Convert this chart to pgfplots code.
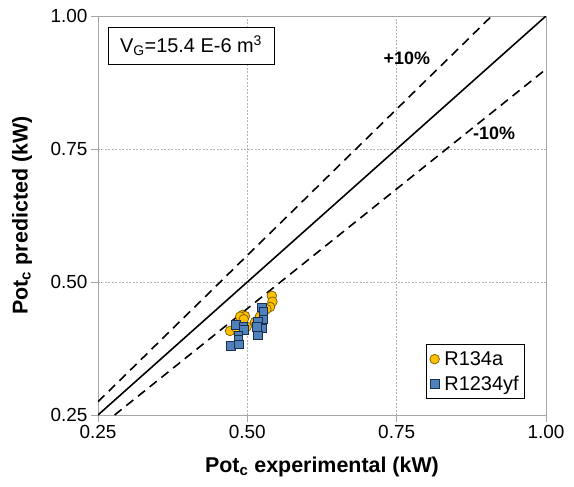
\documentclass[border=0pt]{standalone}
\usepackage{pgfplots}
\pgfplotsset{compat=1.18}
\usepackage{fontspec}
\setmainfont{Liberation Sans}
\definecolor{myyellow}{HTML}{FFC000}
\definecolor{myyedge}{HTML}{7A5A00}
\definecolor{myblue}{HTML}{4F81BD}
\definecolor{mybedge}{HTML}{1A2F50}
\begin{document}
\begin{tikzpicture}
\useasboundingbox (-98bp,-72bp) rectangle (476bp,415bp);
\begin{axis}[
  scale only axis,
  width=448bp, height=399bp,
  xmin=0.25, xmax=1.0, ymin=0.25, ymax=1.0,
  xtick={0.25,0.5,0.75,1.0}, ytick={0.25,0.5,0.75,1.0},
  /pgf/number format/fixed, /pgf/number format/fixed zerofill,
  /pgf/number format/precision=2,
  /pgf/number format/assume math mode=true,
  tick label style={font=\fontsize{19}{21}\selectfont},
  tick align=outside, major tick length=7bp,
  tick style={gray!70, line width=0.6pt},
  axis line style={gray!70, line width=0.8pt},
  xtick pos=left, ytick pos=left,
  grid=major,
  major grid style={gray!60, line width=0.5pt, dash pattern=on 2pt off 1.5pt},
  xlabel={\bfseries Pot\textsubscript{c} experimental (kW)},
  ylabel={\bfseries Pot\textsubscript{c} predicted (kW)},
  label style={font=\fontsize{21.5}{24}\selectfont},
  xlabel style={at={(axis description cs:0.5,0)}, anchor=center, yshift=-52bp},
  ylabel style={at={(axis description cs:0,0.5)}, anchor=center, yshift=76bp, rotate=0},
  legend style={at={(axis description cs:0.953,0.040)}, anchor=south east, draw=black, line width=0.6pt,
    font=\fontsize{20}{24}\selectfont, inner xsep=4bp, inner ysep=5bp, row sep=5bp, cells={anchor=west},
    /tikz/every odd column/.append style={column sep=3bp}},
  legend image post style={line width=0.6pt},
]
\addplot[black, line width=1.6pt, forget plot] coordinates {(0.25,0.25) (1,1)};
\addplot[black, line width=1.6pt, dash pattern=on 9bp off 6bp, forget plot] coordinates {(0.25,0.275) (0.9091,1)};
\addplot[black, line width=1.6pt, dash pattern=on 9bp off 6bp, forget plot] coordinates {(0.2778,0.25) (1,0.9)};
\addplot[only marks, color=myyedge, mark=*, mark size=4.8bp, mark options={fill=myyellow, draw=myyedge, line width=0.7pt}] coordinates {
(0.541,0.474) (0.542,0.463) (0.538,0.453) (0.532,0.449) (0.527,0.441) (0.521,0.435)
(0.492,0.438) (0.496,0.436) (0.488,0.435) (0.513,0.425) (0.516,0.419) (0.471,0.408)
(0.482,0.413) (0.499,0.416) (0.494,0.430)};
\addlegendentry{R134a}
\addplot[only marks, color=mybedge, mark=square*, mark size=4.3bp, mark options={fill=myblue, draw=mybedge, line width=0.7pt}] coordinates {
(0.524,0.452) (0.527,0.444) (0.527,0.430) (0.518,0.425) (0.524,0.413) (0.516,0.416)
(0.518,0.400) (0.481,0.419) (0.493,0.416) (0.494,0.410) (0.485,0.400) (0.485,0.391)
(0.472,0.380) (0.486,0.383)};
\addlegendentry{R1234yf}
\node[draw=black, line width=0.6pt, fill=white, minimum width=166bp, minimum height=37bp,
  font=\fontsize{20}{22}\selectfont] at (axis cs:0.4057,0.9445) {V\textsubscript{G}=15.4 E-6 m\textsuperscript{3}};
\node[font=\bfseries\fontsize{18}{20}\selectfont] at (axis cs:0.767,0.921) {+10\%};
\node[font=\bfseries\fontsize{18}{20}\selectfont] at (axis cs:0.913,0.780) {-10\%};
\end{axis}
\end{tikzpicture}
\end{document}
